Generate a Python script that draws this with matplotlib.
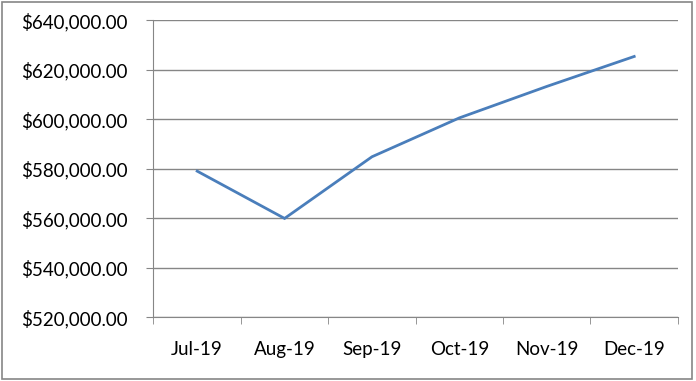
import matplotlib.pyplot as plt
from matplotlib.ticker import FuncFormatter, FixedLocator
from matplotlib.patches import Rectangle

months = ["Jul-19", "Aug-19", "Sep-19", "Oct-19", "Nov-19", "Dec-19"]
values = [579100, 560000, 584900, 600600, 613300, 625400]
y_ticks = [520000, 540000, 560000, 580000, 600000, 620000, 640000]

plt.rcParams['font.family'] = ['Lato', 'DejaVu Sans']
grey = "#868686"

fig = plt.figure(figsize=(6.96, 3.81), dpi=100)
ax = fig.add_axes([0.2205, 0.1667, 0.7535, 0.78])

# outer frame like the excel chart area
fig.patches.append(Rectangle((0.003, 0.005), 0.991, 0.99, transform=fig.transFigure,
                             fill=False, edgecolor=grey, linewidth=1.2))

x = list(range(len(months)))
ax.plot(x, values, color="#4A7EBB", linewidth=2.0, solid_joinstyle="miter")

ax.set_ylim(520000, 640000)
ax.set_yticks(y_ticks)
ax.yaxis.set_major_formatter(FuncFormatter(lambda v, p: "${:,.2f}".format(v)))
ax.grid(axis="y", color=grey, linewidth=1.0)
ax.set_axisbelow(True)

ax.set_xlim(-0.5, len(months) - 0.5)
ax.set_xticks(x)
ax.set_xticklabels(months)
ax.xaxis.set_minor_locator(FixedLocator([i - 0.5 for i in range(len(months) + 1)]))
ax.tick_params(axis="x", which="major", length=0, pad=17, labelsize=13.5, colors="black")
ax.tick_params(axis="x", which="minor", length=5, color=grey, direction="out")
ax.tick_params(axis="y", length=5, color=grey, pad=13.5, labelsize=13.5)

for s in ["top", "right"]:
    ax.spines[s].set_visible(False)
ax.spines["left"].set_color(grey)
ax.spines["bottom"].set_color(grey)

fig.savefig("out.png", dpi=100)
